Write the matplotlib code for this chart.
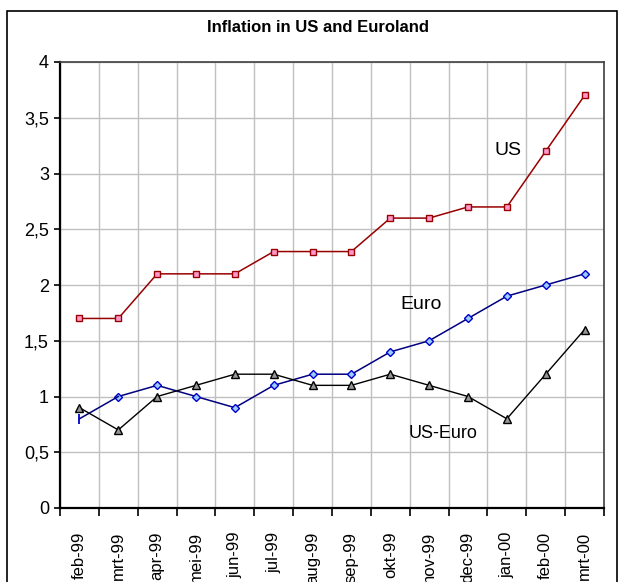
import matplotlib
matplotlib.use('Agg')
from matplotlib import pyplot
from matplotlib.patches import Rectangle
import numpy

months = ['feb-99', 'mrt-99', 'apr-99', 'mei-99', 'jun-99', 'jul-99', 'aug-99',
          'sep-99', 'okt-99', 'nov-99', 'dec-99', 'jan-00', 'feb-00', 'mrt-00']
us = [1.7, 1.7, 2.1, 2.1, 2.1, 2.3, 2.3, 2.3, 2.6, 2.6, 2.7, 2.7, 3.2, 3.7]
euro = [0.8, 1.0, 1.1, 1.0, 0.9, 1.1, 1.2, 1.2, 1.4, 1.5, 1.7, 1.9, 2.0, 2.1]
us_euro = [0.9, 0.7, 1.0, 1.1, 1.2, 1.2, 1.1, 1.1, 1.2, 1.1, 1.0, 0.8, 1.2, 1.6]
yticks = [0, 0.5, 1, 1.5, 2, 2.5, 3, 3.5, 4]

pyplot.rcParams['font.family'] = ['Liberation Sans', 'DejaVu Sans']

W, H = 619, 582
fig = pyplot.figure(figsize=(W / 100, H / 100), dpi=100)
fig.patches.append(Rectangle((7 / W, -0.1), 610 / W, (H - 11) / H + 0.1,
                             transform=fig.transFigure, fill=False,
                             edgecolor='black', linewidth=1.2))
ax = fig.add_axes([60 / W, (H - 508) / H, 544 / W, 446 / H])

x = numpy.arange(len(months))
ax.plot(x, us, '-', color='#990000', lw=1.1, marker='s', ms=5,
        mfc='#ff99cc', mec='#990000', mew=1)
ax.plot(x[1:], euro[1:], '-', color='#000080', lw=1.1, marker='D', ms=4.5,
        mfc='#99ccff', mec='#0000cc', mew=1)
ax.plot(x[:2], euro[:2], '-', color='#000080', lw=1.1)
ax.plot(x[:1], euro[:1], '|', color='#0000cc', ms=7, mew=1.3)
ax.plot(x, us_euro, '-', color='black', lw=1, marker='^', ms=5.5,
        mfc='#969696', mec='black', mew=1)

ax.text(10.69, 3.17, 'US', fontsize=14)
ax.text(8.27, 1.785, 'Euro', fontsize=14)
ax.text(8.48, 0.63, 'US-Euro', fontsize=13)

ax.set_xlim(-0.5, len(months) - 0.5)
ax.set_ylim(0, 4)
ax.set_yticks(yticks)
ax.set_yticklabels([('%g' % v).replace('.', ',') for v in yticks], fontsize=13)
ax.set_xticks(x)
ax.set_xticklabels(months, rotation=90, fontsize=12)
ax.set_xticks(numpy.arange(-0.5, len(months)), minor=True)
ax.tick_params(axis='x', which='major', length=0, pad=17)
ax.tick_params(axis='x', which='minor', length=6, width=1.2, direction='out')
ax.tick_params(axis='y', length=4, width=1.2, pad=4)
ax.grid(True, which='minor', axis='x', color='#c0c0c0', lw=1)
ax.grid(True, which='major', axis='y', color='#c0c0c0', lw=1)
ax.set_axisbelow(True)
for side in ['left', 'bottom']:
    ax.spines[side].set_linewidth(1.6)
for side in ['top', 'right']:
    ax.spines[side].set_color('#404040')
    ax.spines[side].set_linewidth(1.2)

fig.text(318 / W, 1 - 28 / H, 'Inflation in US and Euroland', ha='center',
         va='center', fontsize=12, fontweight='bold')

fig.savefig('out.png', dpi=100)
